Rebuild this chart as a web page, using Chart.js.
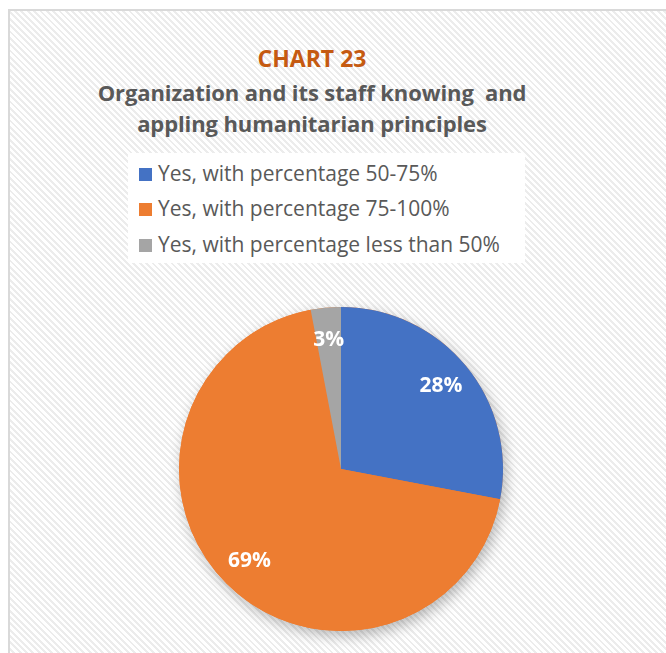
<!DOCTYPE html>
<html>
<head>
<meta charset="utf-8">
<script src="https://cdn.jsdelivr.net/npm/chart.js@4.4.0/dist/chart.umd.min.js"></script>
<style>
  body { margin: 0; width: 666px; height: 653px; overflow: hidden; background: #fff; position: relative; font-family: "Open Sans", sans-serif; }
  #frame {
    position: absolute; left: 8px; top: 9px; width: 700px; height: 700px;
    border-left: 2px solid #d9d9d9; border-top: 2px solid #d9d9d9;
    background: repeating-linear-gradient(45deg, #ffffff 0px, #ffffff 2.5px, #ececec 2.5px, #ececec 4.5px);
  }
  #title { position: absolute; left: 0; width: 624px; text-align: center; top: 43px; height: 30px; line-height: 30px; color: #C55A11; font-weight: bold; font-size: 23px; }
  #subtitle { position: absolute; left: 0; width: 624px; text-align: center; top: 77px; color: #595959; font-weight: bold; font-size: 22px; line-height: 31px; letter-spacing: -0.1px; white-space: pre; }
  #legend { position: absolute; left: 128px; top: 153px; width: 397px; height: 110px; background: #fff; }
  .item { position: absolute; left: 11px; height: 24px; line-height: 24px; color: #595959; font-size: 21px; white-space: nowrap; }
  .box { display: inline-block; width: 13px; height: 13px; margin-right: 6px; vertical-align: 0px; }
  #wrap { position: absolute; left: 141px; top: 269px; width: 400px; height: 400px; }
</style>
</head>
<body>
<div id="frame"></div>
<div id="title">CHART 23</div>
<div id="subtitle">Organization and its staff knowing  and
appling humanitarian principles</div>
<div id="legend"></div>
<div id="wrap"><canvas id="pie" width="400" height="400"></canvas></div>
<script>
const categories = ["Yes, with percentage 50-75%", "Yes, with percentage 75-100%", "Yes, with percentage less than 50%"];
const values = [28, 69, 3];
const colors = ["#4472C4", "#ED7D31", "#A5A5A5"];

// legend in html so the three items stack like the original
const legend = document.getElementById("legend");
const rowTops = [8, 43, 79];
categories.forEach((name, i) => {
    const div = document.createElement("div");
    div.className = "item";
    div.style.top = rowTops[i] + "px";
    div.innerHTML = '<span class="box" style="background:' + colors[i] + '"></span>' + name;
    legend.appendChild(div);
});

const shadowPlugin = {
    id: "shadow",
    beforeDatasetsDraw(chart) {
        const arc = chart.getDatasetMeta(0).data[0];
        if (!arc) return;
        const ctx = chart.ctx;
        ctx.save();
        ctx.shadowColor = "rgba(0,0,0,0.28)";
        ctx.shadowBlur = 14;
        ctx.shadowOffsetX = 3;
        ctx.shadowOffsetY = 5;
        ctx.fillStyle = colors[1];
        ctx.beginPath();
        ctx.arc(arc.x, arc.y, arc.outerRadius, 0, Math.PI * 2);
        ctx.fill();
        ctx.restore();
    }
};

const labelPlugin = {
    id: "sliceLabels",
    afterDatasetsDraw(chart) {
        const ctx = chart.ctx;
        ctx.save();
        ctx.fillStyle = "#fff";
        ctx.font = "bold 21px 'Open Sans', sans-serif";
        ctx.textAlign = "center";
        ctx.textBaseline = "middle";
        chart.getDatasetMeta(0).data.forEach((arc, i) => {
            const mid = (arc.startAngle + arc.endAngle) / 2;
            const r = arc.outerRadius * 0.8;
            ctx.fillText(values[i] + "%", arc.x + Math.cos(mid) * r, arc.y + Math.sin(mid) * r);
        });
        ctx.restore();
    }
};

new Chart(document.getElementById("pie"), {
    type: "pie",
    data: {
        labels: categories,
        datasets: [{
            data: values,
            backgroundColor: colors,
            borderWidth: 0
        }]
    },
    options: {
        responsive: false,
        animation: false,
        layout: { padding: 38 },
        plugins: {
            legend: { display: false },
            tooltip: { enabled: false }
        }
    },
    plugins: [shadowPlugin, labelPlugin]
});
</script>
</body>
</html>
